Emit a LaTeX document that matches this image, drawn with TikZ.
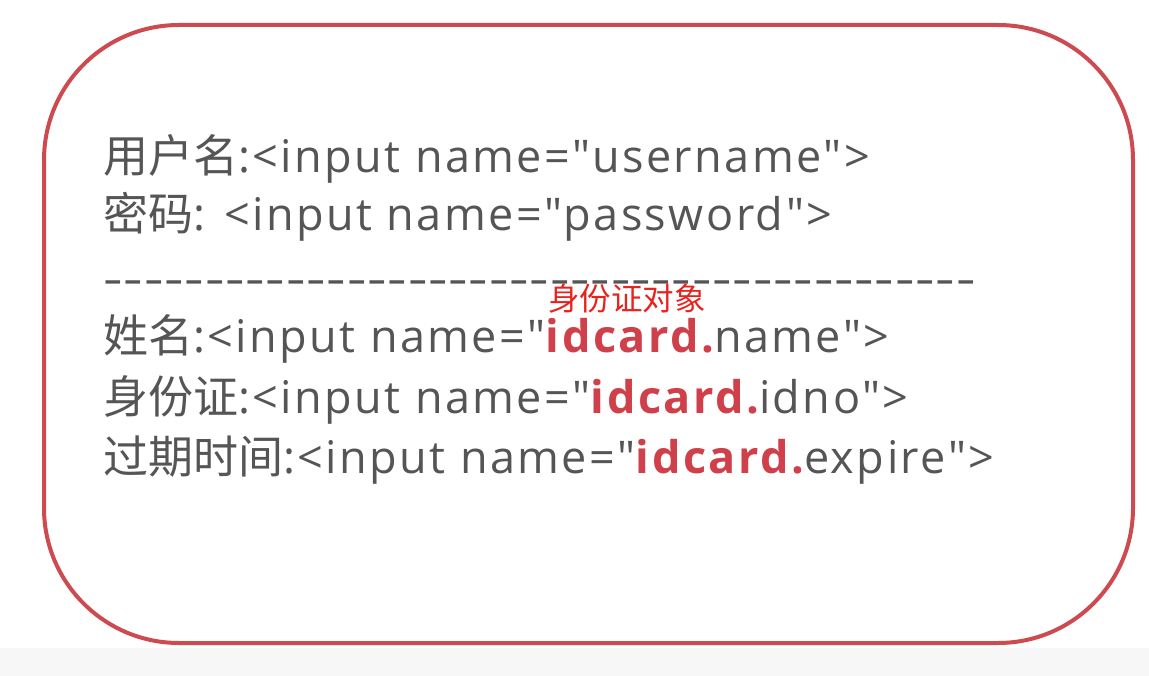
\documentclass[tikz,border=0pt]{standalone}
\usepackage{fontspec}
\setmainfont{Open Sans}
\newfontfamily\codefont{Open Sans}[LetterSpace=5.5]
\newfontfamily\cjk{Noto Sans CJK SC}
\definecolor{framered}{RGB}{205, 75, 80}
\definecolor{codegray}{RGB}{85, 85, 85}
\definecolor{idred}{RGB}{208, 64, 74}
\definecolor{notered}{RGB}{232, 35, 30}

\begin{document}
\begin{tikzpicture}[x=1pt, y=-1pt,
  field/.style={anchor=base west, inner sep=0pt, text=codegray, font=\codefont\fontsize{45}{54}\selectfont}]
  \useasboundingbox (0,0) rectangle (1149,676);
  % grey strip at the bottom of the screen
  \fill[black!3] (0,648) rectangle (1149,676);

  % The frame
  \draw[framered, line width=4pt, rounded corners=135pt] (44,25) rectangle (1133,643);

  % Login fields
  \node[field] (user) at (103,173) {{\cjk 用户名}:<input name="username">};
  \node[field] (pass) at (103,231) {{\cjk 密码}: <input name="password">};

  % Separator
  \node[field] (sep) at (103,295) {\foreach \i in {1,...,43}{\makebox[20.3pt][c]{\scalebox{1.35}[1]{-}}}};

  % ID card fields
  \node[anchor=base west, inner sep=0pt, text=notered, font=\cjk\fontsize{31.5}{36}\selectfont] (tag) at (548,311) {身份证对象};
  \node[field] (idname) at (103,353) {{\cjk 姓名}:<input name="{\color{idred}\bfseries idcard.}name">};
  \node[field] (idno) at (103,413) {{\cjk 身份证}:<input name="{\color{idred}\bfseries idcard.}idno">};
  \node[field] (idexp) at (103,473) {{\cjk 过期时间}:<input name="{\color{idred}\bfseries idcard.}expire">};
\end{tikzpicture}
\end{document}
